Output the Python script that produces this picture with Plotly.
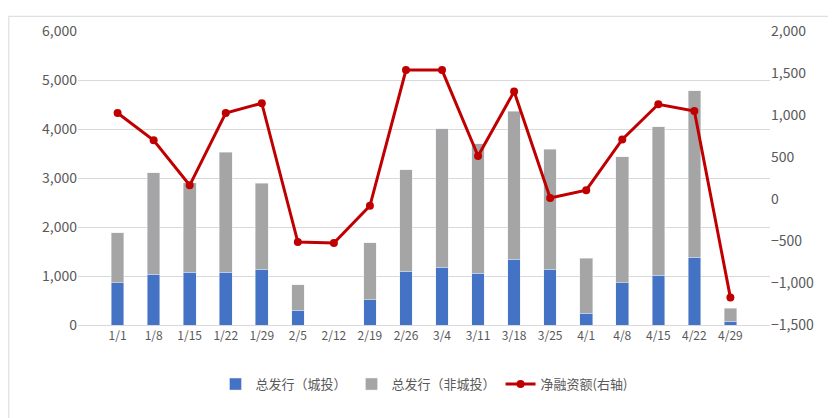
import plotly.graph_objects as go

dates = ["1/1", "1/8", "1/15", "1/22", "1/29", "2/5", "2/12", "2/19", "2/26", "3/4",
         "3/11", "3/18", "3/25", "4/1", "4/8", "4/15", "4/22", "4/29"]
chengtou = [860, 1040, 1080, 1080, 1140, 300, 0, 520, 1100, 1180,
            1060, 1340, 1140, 240, 860, 1020, 1380, 80]
total = [1880, 3110, 2900, 3530, 2890, 820, 0, 1680, 3170, 4010,
         3700, 4360, 3590, 1360, 3430, 4050, 4780, 340]
feichengtou = [t - c for t, c in zip(total, chengtou)]
net = [1023, 698, 163, 1023, 1140, -512, -523, -81, 1535, 1535,
       512, 1279, 12, 105, 709, 1128, 1047, -1174]

fig = go.Figure()
fig.add_trace(go.Bar(x=dates, y=chengtou, name="总发行（城投）", marker_color="#4472C4", width=0.35))
fig.add_trace(go.Bar(x=dates, y=feichengtou, name="总发行（非城投）", marker_color="#A5A5A5", width=0.35))
fig.add_trace(go.Scatter(x=dates, y=net, name="净融资额(右轴)", yaxis="y2", mode="lines+markers",
                         line=dict(color="#C00000", width=3), marker=dict(size=8, color="#C00000")))

fig.update_layout(
    barmode="stack",
    width=836, height=418,
    margin=dict(l=70, r=74, t=16, b=101),
    plot_bgcolor="white", paper_bgcolor="white",
    font=dict(family="Noto Sans CJK SC", size=13, color="#595959"),
    xaxis=dict(showline=True, linecolor="#d9d9d9", ticks="", tickfont=dict(size=12)),
    yaxis=dict(range=[0, 6000], dtick=1000, tickformat=",", gridcolor="#d9d9d9",
               zeroline=False, tickfont=dict(size=14)),
    yaxis2=dict(range=[-1500, 2000], dtick=500, tickformat=",", overlaying="y", side="right",
                showgrid=False, zeroline=False, tickfont=dict(size=14)),
    legend=dict(orientation="h", traceorder="normal", x=0.5, xanchor="center", y=-0.15,
                yanchor="top", font=dict(size=13)),
    shapes=[dict(type="rect", xref="paper", yref="paper", x0=-0.1, x1=1.104, y0=-0.33, y1=1.05,
                 line=dict(color="#d9d9d9", width=1))],
)

fig.write_html("out.html")
